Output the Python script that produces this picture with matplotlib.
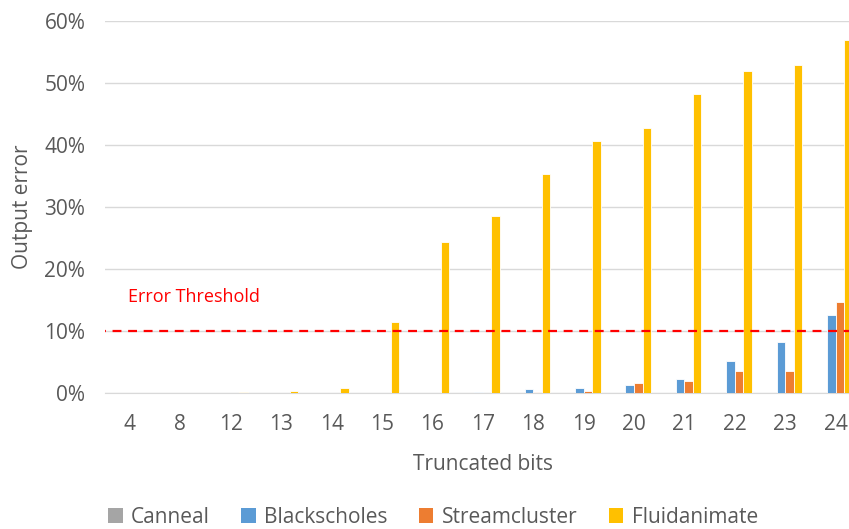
import matplotlib
matplotlib.use("Agg")
import matplotlib.pyplot as plt
import numpy as np
from matplotlib.patches import Patch

categories = ["4", "8", "12", "13", "14", "15", "16", "17", "18", "19", "20", "21", "22", "23", "24"]
canneal = [0, 0, 0, 0, 0, 0, 0, 0, 0, 0, 0, 0, 0, 0, 0]
blackscholes = [0, 0, 0, 0, 0, 0, 0, 0.2, 0.65, 0.85, 1.25, 2.3, 5.2, 8.2, 12.6]
streamcluster = [0, 0, 0, 0, 0, 0, 0, 0, 0.15, 0.35, 1.65, 2.0, 3.55, 3.55, 14.7]
fluidanimate = [0, 0, 0.1, 0.25, 0.8, 11.5, 24.4, 28.5, 35.4, 40.7, 42.7, 48.3, 51.9, 53.0, 57.0]
series_names = ["Canneal", "Blackscholes", "Streamcluster", "Fluidanimate"]
colors = ["#A5A5A5", "#5B9BD5", "#ED7D31", "#FFC000"]
threshold = 10
yticks = [0, 10, 20, 30, 40, 50, 60]

plt.rcParams['font.family'] = ['Open Sans', 'DejaVu Sans']
fig = plt.figure(figsize=(8.49, 5.29), dpi=100)
ax = fig.add_axes([104.8 / 849, 0.257, 756 / 849, 0.703])

x = np.arange(len(categories))
w = 0.169
data = [canneal, blackscholes, streamcluster, fluidanimate]
for i, (vals, c) in enumerate(zip(data, colors)):
    ax.bar(x + (i - 1.5) * w, vals, width=w, color=c, edgecolor="white", linewidth=0.6, zorder=3)

ax.axhline(threshold, color="#FF0000", linestyle=(0, (4, 3)), linewidth=1.6, zorder=4, xmin=-0.01)
ax.text(-0.03, 15.5, "Error Threshold", color="#FF0000", fontsize=13, va="center", ha="left")

ax.set_xlim(-0.5, len(categories) - 0.5)
ax.set_ylim(0, 60)
ax.set_yticks(yticks)
ax.set_yticklabels([f"{v}%" for v in yticks])
ax.set_xticks(x)
ax.set_xticklabels(categories)
ax.grid(axis="y", color="#D9D9D9", linewidth=1, zorder=0)
for s in ["top", "right", "left"]:
    ax.spines[s].set_visible(False)
ax.spines["bottom"].set_color("#D9D9D9")
ax.tick_params(axis="both", length=0, labelsize=15, colors="#595959", pad=15)
ax.tick_params(axis="y", pad=14)
ax.set_xlabel("Truncated bits", fontsize=15, color="#595959", labelpad=14)
ax.set_ylabel("Output error", fontsize=15, color="#595959", labelpad=8)

handles = [Patch(facecolor=c, edgecolor="none") for c in colors]
fig.legend(handles, series_names, loc="center", bbox_to_anchor=(0.51, 0.022), ncol=4,
           frameon=False, fontsize=15, handlelength=0.7, handleheight=0.7,
           columnspacing=1.5, handletextpad=0.4, labelcolor="#595959")

fig.savefig("out.png", dpi=100)
